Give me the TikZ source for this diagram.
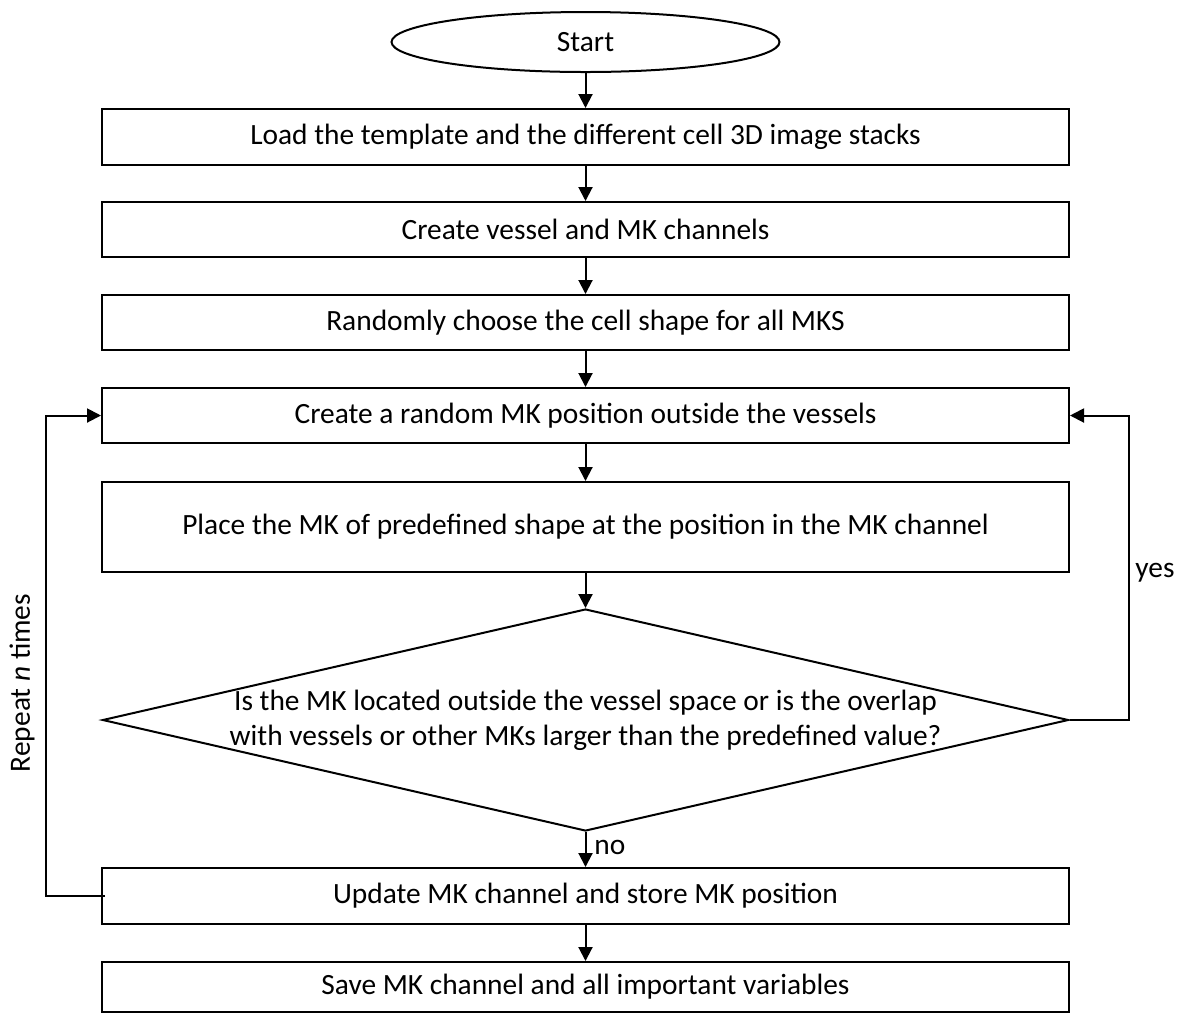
\documentclass[tikz,border=0pt]{standalone}
\usepackage{fontspec}
\setmainfont{Carlito}
\usetikzlibrary{shapes.geometric,arrows.meta}
\begin{document}
\begin{tikzpicture}[x=0.5pt,y=-0.5pt,
  font=\fontsize{14.7}{17.5}\selectfont,
  box/.style={draw, line width=1pt, rectangle, minimum width=483.5pt, inner sep=0pt},
  arr/.style={line width=1pt, -{Triangle[length=7pt,width=7pt]}},
  lin/.style={line width=1pt}]
\useasboundingbox (0,0) rectangle (1181,1014);
\node[draw, line width=1pt, ellipse, minimum width=194pt, minimum height=30pt, inner sep=0pt] (start) at (585.5,42) {Start};
\node[box, minimum height=28pt] (b1) at (585.5,137) {Load the template and the different cell 3D image stacks};
\node[box, minimum height=27.5pt] (b2) at (585.5,229.5) {Create vessel and MK channels};
\node[box, minimum height=27.5pt] (b3) at (585.5,322.5) {Randomly choose the cell shape for all MKS};
\node[box, minimum height=27.5pt] (b4) at (585.5,415.5) {Create a random MK position outside the vessels};
\node[box, minimum height=45pt] (b5) at (585.5,527) {Place the MK of predefined shape at the position in the MK channel};
\node[draw, line width=1pt, diamond, minimum width=483pt, minimum height=111pt, inner sep=0pt] (d) at (585.5,720) {};
\node[align=center, inner sep=0pt] (dt) at (d.center) {Is the MK located outside the vessel space or is the overlap\\with vessels or other MKs larger than the predefined value?};
\node[box, minimum height=28pt] (b6) at (585.5,896) {Update MK channel and store MK position};
\node[box, minimum height=25pt] (b7) at (585.5,987) {Save MK channel and all important variables};
\coordinate (yr) at (1129,720);
\coordinate (rl) at (46,896);
\draw[arr] (start) -- (b1);
\draw[arr] (b1) -- (b2);
\draw[arr] (b2) -- (b3);
\draw[arr] (b3) -- (b4);
\draw[arr] (b4) -- (b5);
\draw[arr] (b5) -- (d);
\draw[arr] (d.south) -- (b6.north);
\draw[arr] (b6) -- (b7);
\draw[arr] (d.east) -- (yr) |- (b4.east);
\draw[arr] ([xshift=2pt]b6.west) -- (rl) |- (b4.west);
\node[anchor=west, inner sep=0pt] (yes) at (1135,573) {yes};
\node[anchor=west, inner sep=0pt] (no) at (594,847) {no};
\node[rotate=90, inner sep=0pt] (rep) at (22,683) {Repeat \textit{n} times};
\end{tikzpicture}
\end{document}
